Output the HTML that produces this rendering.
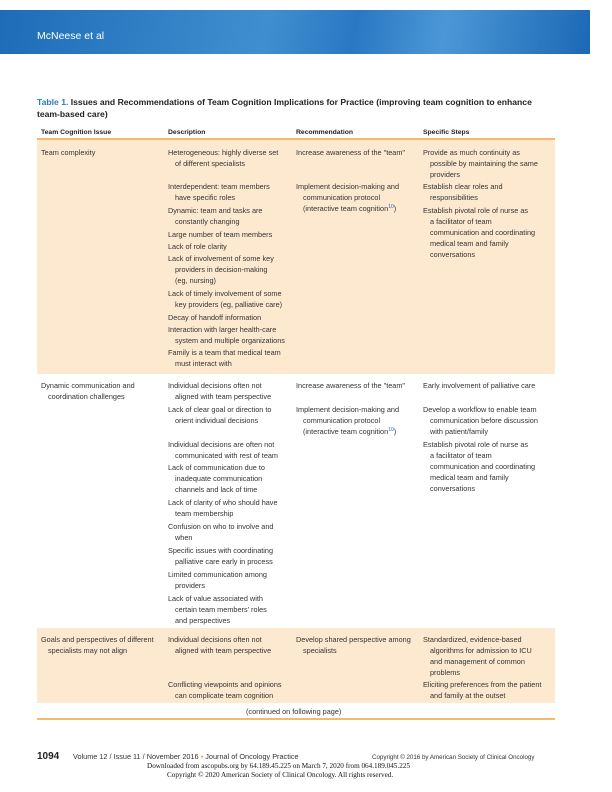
<!DOCTYPE html>
<html><head><meta charset="utf-8"><style>
*{margin:0;padding:0}
body{width:612px;height:792px;position:relative;background:#fff;font-family:"Liberation Sans",sans-serif;overflow:hidden}
.band{position:absolute;left:0;top:10px;width:590px;height:44px;background:linear-gradient(100deg,#1e6cb8 0%,#3f8fd0 45%,#2a78c4 60%,#4b97d6 75%,#1c68b5 100%)}
.au{position:absolute;left:37px;top:30px;color:#fff;font-size:10.5px}
.t{position:absolute;font-size:7.3px;line-height:10px;color:#333;white-space:nowrap}
.h{position:absolute;font-size:6.8px;line-height:10px;color:#222;font-weight:bold;white-space:nowrap}
.bg{position:absolute;left:37px;width:518px;background:#fde9d0}
.ln{position:absolute;left:37px;width:518px;height:1.5px;background:#f6b96b}
.ti{position:absolute;left:37px;font-size:8.6px;font-weight:bold;color:#222;white-space:nowrap}
sup{font-size:5px;color:#3a5fcd;line-height:0;vertical-align:3px}
</style></head><body>
<div class="band"></div><div class="au">McNeese et al</div>
<div class="ti" style="top:97px"><span style="color:#2a7bc0">Table 1.</span> Issues and Recommendations of Team Cognition Implications for Practice (improving team cognition to enhance</div>
<div class="ti" style="top:109px">team-based care)</div>
<div class="h" style="left:41px;top:128px">Team Cognition Issue</div>
<div class="h" style="left:168px;top:128px">Description</div>
<div class="h" style="left:296px;top:128px">Recommendation</div>
<div class="h" style="left:423px;top:128px">Specific Steps</div>
<div class="ln" style="top:138px"></div>
<div class="bg" style="top:139.5px;height:234px"></div>
<div class="bg" style="top:628px;height:75px"></div>
<div class="ln" style="top:718px"></div>

<div class="t" style="left:41px;top:148px">Team complexity</div>
<div class="t" style="left:168px;top:148px">Heterogeneous: highly diverse set</div>
<div class="t" style="left:175px;top:159px">of different specialists</div>
<div class="t" style="left:168px;top:182px">Interdependent: team members</div>
<div class="t" style="left:175px;top:193px">have specific roles</div>
<div class="t" style="left:168px;top:206px">Dynamic: team and tasks are</div>
<div class="t" style="left:175px;top:217px">constantly changing</div>
<div class="t" style="left:168px;top:230px">Large number of team members</div>
<div class="t" style="left:168px;top:242px">Lack of role clarity</div>
<div class="t" style="left:168px;top:254px">Lack of involvement of some key</div>
<div class="t" style="left:175px;top:265px">providers in decision-making</div>
<div class="t" style="left:175px;top:276px">(eg, nursing)</div>
<div class="t" style="left:168px;top:289px">Lack of timely involvement of some</div>
<div class="t" style="left:175px;top:300px">key providers (eg, palliative care)</div>
<div class="t" style="left:168px;top:313px">Decay of handoff information</div>
<div class="t" style="left:168px;top:325px">Interaction with larger health-care</div>
<div class="t" style="left:175px;top:336px">system and multiple organizations</div>
<div class="t" style="left:168px;top:348px">Family is a team that medical team</div>
<div class="t" style="left:175px;top:359px">must interact with</div>
<div class="t" style="left:296px;top:148px">Increase awareness of the "team"</div>
<div class="t" style="left:296px;top:182px">Implement decision-making and</div>
<div class="t" style="left:303px;top:193px">communication protocol</div>
<div class="t" style="left:303px;top:204px">(interactive team cognition<sup>10</sup>)</div>
<div class="t" style="left:423px;top:148px">Provide as much continuity as</div>
<div class="t" style="left:430px;top:159px">possible by maintaining the same</div>
<div class="t" style="left:430px;top:170px">providers</div>
<div class="t" style="left:423px;top:182px">Establish clear roles and</div>
<div class="t" style="left:430px;top:193px">responsibilities</div>
<div class="t" style="left:423px;top:206px">Establish pivotal role of nurse as</div>
<div class="t" style="left:430px;top:217px">a facilitator of team</div>
<div class="t" style="left:430px;top:228px">communication and coordinating</div>
<div class="t" style="left:430px;top:239px">medical team and family</div>
<div class="t" style="left:430px;top:250px">conversations</div>

<div class="t" style="left:41px;top:381px">Dynamic communication and</div>
<div class="t" style="left:48px;top:392px">coordination challenges</div>
<div class="t" style="left:168px;top:381px">Individual decisions often not</div>
<div class="t" style="left:175px;top:392px">aligned with team perspective</div>
<div class="t" style="left:168px;top:405px">Lack of clear goal or direction to</div>
<div class="t" style="left:175px;top:416px">orient individual decisions</div>
<div class="t" style="left:168px;top:440px">Individual decisions are often not</div>
<div class="t" style="left:175px;top:451px">communicated with rest of team</div>
<div class="t" style="left:168px;top:463px">Lack of communication due to</div>
<div class="t" style="left:175px;top:474px">inadequate communication</div>
<div class="t" style="left:175px;top:485px">channels and lack of time</div>
<div class="t" style="left:168px;top:498px">Lack of clarity of who should have</div>
<div class="t" style="left:175px;top:509px">team membership</div>
<div class="t" style="left:168px;top:522px">Confusion on who to involve and</div>
<div class="t" style="left:175px;top:533px">when</div>
<div class="t" style="left:168px;top:546px">Specific issues with coordinating</div>
<div class="t" style="left:175px;top:557px">palliative care early in process</div>
<div class="t" style="left:168px;top:570px">Limited communication among</div>
<div class="t" style="left:175px;top:581px">providers</div>
<div class="t" style="left:168px;top:594px">Lack of value associated with</div>
<div class="t" style="left:175px;top:605px">certain team members' roles</div>
<div class="t" style="left:175px;top:616px">and perspectives</div>
<div class="t" style="left:296px;top:381px">Increase awareness of the "team"</div>
<div class="t" style="left:296px;top:405px">Implement decision-making and</div>
<div class="t" style="left:303px;top:416px">communication protocol</div>
<div class="t" style="left:303px;top:427px">(interactive team cognition<sup>10</sup>)</div>
<div class="t" style="left:423px;top:381px">Early involvement of palliative care</div>
<div class="t" style="left:423px;top:405px">Develop a workflow to enable team</div>
<div class="t" style="left:430px;top:416px">communication before discussion</div>
<div class="t" style="left:430px;top:427px">with patient/family</div>
<div class="t" style="left:423px;top:440px">Establish pivotal role of nurse as</div>
<div class="t" style="left:430px;top:451px">a facilitator of team</div>
<div class="t" style="left:430px;top:462px">communication and coordinating</div>
<div class="t" style="left:430px;top:473px">medical team and family</div>
<div class="t" style="left:430px;top:484px">conversations</div>

<div class="t" style="left:41px;top:635px">Goals and perspectives of different</div>
<div class="t" style="left:48px;top:646px">specialists may not align</div>
<div class="t" style="left:168px;top:635px">Individual decisions often not</div>
<div class="t" style="left:175px;top:646px">aligned with team perspective</div>
<div class="t" style="left:168px;top:680px">Conflicting viewpoints and opinions</div>
<div class="t" style="left:175px;top:691px">can complicate team cognition</div>
<div class="t" style="left:296px;top:635px">Develop shared perspective among</div>
<div class="t" style="left:303px;top:646px">specialists</div>
<div class="t" style="left:423px;top:635px">Standardized, evidence-based</div>
<div class="t" style="left:430px;top:646px">algorithms for admission to ICU</div>
<div class="t" style="left:430px;top:657px">and management of common</div>
<div class="t" style="left:430px;top:668px">problems</div>
<div class="t" style="left:423px;top:680px">Eliciting preferences from the patient</div>
<div class="t" style="left:430px;top:691px">and family at the outset</div>
<div class="t" style="left:246px;top:707px">(continued on following page)</div>

<div style="position:absolute;left:37px;top:751px;font-size:10px;font-weight:bold;color:#222">1094</div>
<div class="t" style="left:73px;top:752px;font-size:7.3px">Volume 12 / Issue 11 / November 2016 <span style="color:#f39a3c">▪</span> Journal of Oncology Practice</div>
<div class="t" style="left:372px;top:753px;font-size:6.2px">Copyright © 2016 by American Society of Clinical Oncology</div>
<div class="t" style="left:147px;top:761px;font-family:'Liberation Serif',serif;font-size:7.2px;color:#111">Downloaded from ascopubs.org by 64.189.45.225 on March 7, 2020 from 064.189.045.225</div>
<div class="t" style="left:167px;top:770px;font-family:'Liberation Serif',serif;font-size:7.2px;color:#111">Copyright © 2020 American Society of Clinical Oncology. All rights reserved.</div>
</body></html>
